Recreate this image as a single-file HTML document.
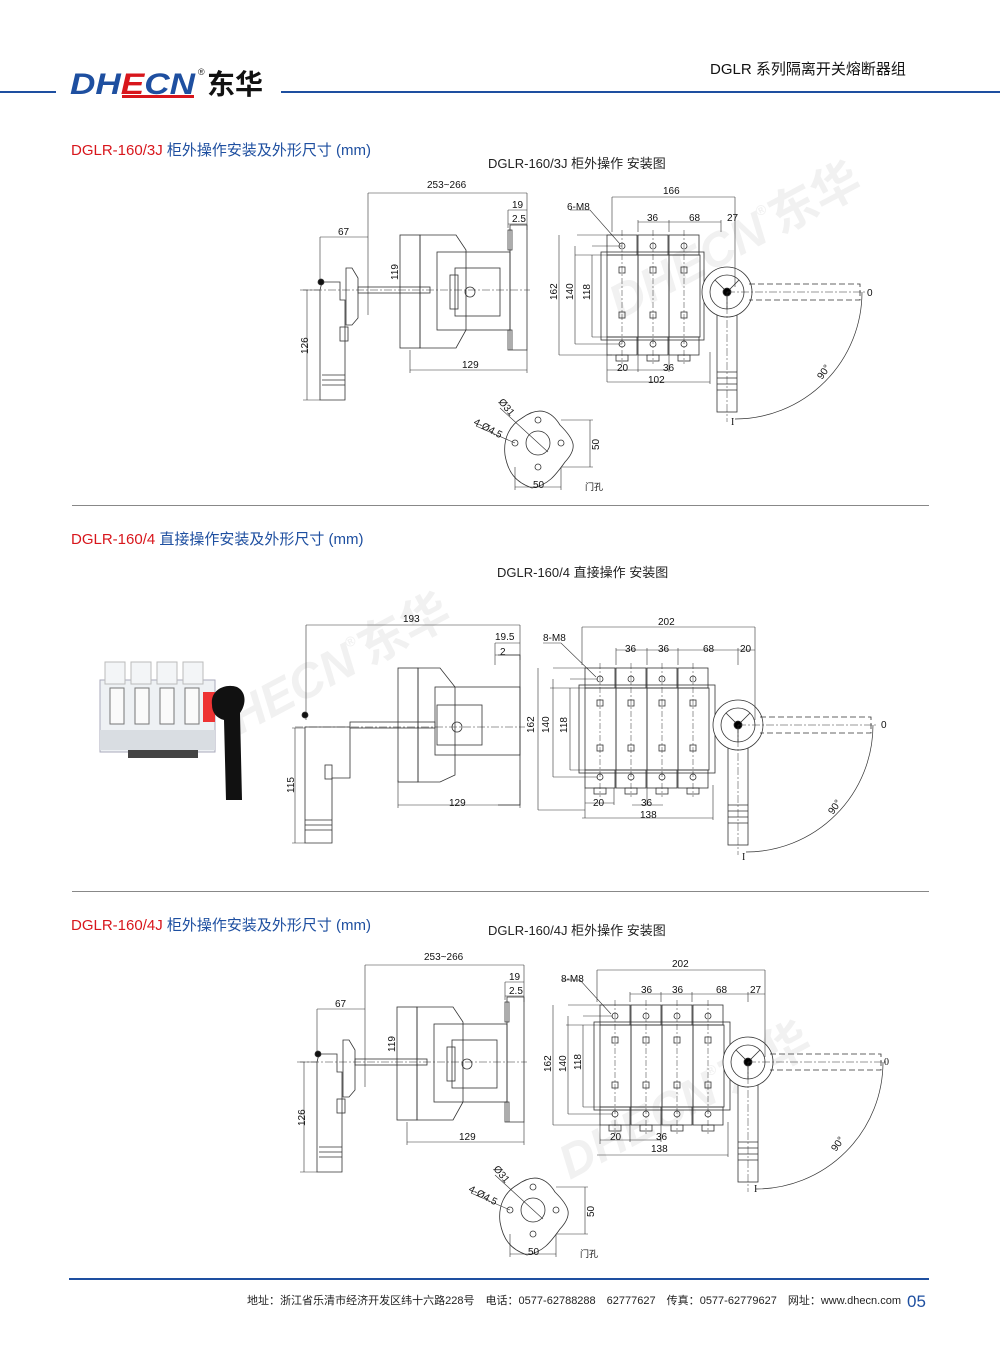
<!DOCTYPE html>
<html><head><meta charset="utf-8">
<style>
html,body{margin:0;padding:0;background:#fff;}
body{width:1000px;height:1357px;position:relative;overflow:hidden;font-family:"Liberation Sans","Noto Sans CJK SC",sans-serif;}
svg{position:absolute;left:0;top:0;}
</style></head><body>
<svg width="1000" height="1357" viewBox="0 0 1000 1357" font-family="Liberation Sans, Noto Sans CJK SC, sans-serif">
<defs>
<g id="side" fill="none" stroke="#333" stroke-width="0.8">
  <path d="M368 193H527M368 193V315M527 193V230M320 237H368M320 237V285M508 210H527M508 210V228M508 224H527M410 370H527M410 350V373M527 350V373M307 290V400M303 290H320M303 400H320" stroke-width="0.6"/>
  <path d="M320 290V400H345V300H340V282H322Z"/>
  <path d="M322 375H345M322 380H345M322 385H345"/>
  <rect x="340" y="327" width="8" height="14"/>
  <path d="M346 268H352L358 278V318L352 325H346Z"/>
  <circle cx="321" cy="282" r="3" fill="#111"/>
  <rect x="358" y="287" width="72" height="6"/>
  <rect x="400" y="235" width="20" height="113"/>
  <path d="M420 235H456L466 250V330L456 348H420Z"/>
  <rect x="437" y="252" width="73" height="78"/>
  <rect x="455" y="268" width="45" height="48"/>
  <rect x="450" y="275" width="8" height="34"/>
  <circle cx="470" cy="292" r="5"/>
  <path d="M510 225H527V350H510ZM508 230H512V250H508ZM508 330H512V350H508Z"/>
  <path d="M300 290H530" stroke-dasharray="8 2 2 2" stroke-width="0.5"/>
</g>
<g id="hole" fill="none" stroke="#333" stroke-width="0.8">
  <path d="M522 418C540 405 552 412 560 425C575 440 578 448 565 462C555 476 548 485 532 488C515 482 508 472 505 455C503 438 510 425 522 418Z"/>
  <circle cx="538" cy="443" r="12"/>
  <circle cx="538" cy="420" r="3"/><circle cx="538" cy="467" r="3"/>
  <circle cx="515" cy="443" r="3"/><circle cx="561" cy="443" r="3"/>
  <path d="M500 408L548 452M476 426L515 443M561 420H593M561 467H593M590 420V467M515 467V490M561 467V490M515 487H561" stroke-width="0.6"/>
</g>
<g id="handle" fill="none" stroke="#333" stroke-width="0.8">
  <rect x="-10" y="0" width="20" height="120" fill="#fff"/>
  <path d="M-10 80H10M-10 86H10M-10 92H10M-10 98H10"/>
  <circle cx="0" cy="0" r="25" fill="#fff"/>
  <circle cx="0" cy="0" r="17"/>
  <path d="M-12 -12L0 0L12 -12M0 0V17"/>
  <circle cx="0" cy="0" r="4" fill="#000"/>
  <path d="M22 -8H133V8H22" stroke-dasharray="6 3"/>
  <path d="M0 0H140M0 0V130" stroke-dasharray="8 2 2 2" stroke-width="0.5"/>
  <path d="M135 0A127 127 0 0 1 8 127" stroke-width="0.7"/>
</g>
<g id="pole" fill="none" stroke="#333" stroke-width="0.8">
  <rect x="0" y="-57" width="30" height="20"/>
  <circle cx="15" cy="-46" r="3"/>
  <rect x="0" y="-37" width="31" height="82"/>
  <rect x="12" y="-25" width="6" height="6"/>
  <rect x="12" y="20" width="6" height="6"/>
  <rect x="0" y="45" width="30" height="18"/>
  <circle cx="15" cy="52" r="3"/>
  <rect x="9" y="63" width="12" height="6"/>
  <path d="M15 -62V72" stroke-dasharray="6 2 2 2" stroke-width="0.5"/>
</g>
</defs>

<!-- header -->
<rect x="0" y="91" width="56" height="2" fill="#1e4fa0"/>
<rect x="281" y="91" width="719" height="2" fill="#1e4fa0"/>
<text x="70" y="94" font-size="30" font-weight="bold" font-style="italic" fill="#1e4fa0" textLength="125" lengthAdjust="spacingAndGlyphs">DH<tspan fill="#d8161c">E</tspan>CN</text>
<rect x="122" y="95" width="72" height="3" fill="#d8161c"/>
<text x="198" y="75" font-size="9" fill="#222">®</text>
<text x="207" y="94" font-size="28" font-weight="bold" fill="#111" font-family="Noto Sans CJK SC, sans-serif">东华</text>
<text x="710" y="74" font-size="15" fill="#111">DGLR 系列隔离开关熔断器组</text>

<!-- watermarks -->
<g fill="#f1f1f1" font-weight="bold" font-style="italic">
<text x="0" y="0" font-size="48" transform="translate(620,320) rotate(-28)">DHECN<tspan font-size="14" dy="-26">®</tspan><tspan dy="26" font-style="normal">东华</tspan></text>
<text x="0" y="0" font-size="48" transform="translate(240,735) rotate(-28)">HECN<tspan font-size="14" dy="-26">®</tspan><tspan dy="26" font-style="normal">东华</tspan></text>
<text x="0" y="0" font-size="48" transform="translate(570,1180) rotate(-28)">DHECN<tspan font-size="14" dy="-26">®</tspan><tspan dy="26" font-style="normal">东华</tspan></text>
</g>

<text x="71" y="155" font-size="15"><tspan fill="#d8161c">DGLR-160/3J</tspan><tspan fill="#1e4fa0"> 柜外操作安装及外形尺寸 (mm)</tspan></text>
<text x="488" y="168" font-size="13" fill="#222">DGLR-160/3J 柜外操作 安装图</text>
<rect x="72" y="505" width="857" height="1" fill="#888"/>
<text x="71" y="544" font-size="15"><tspan fill="#d8161c">DGLR-160/4</tspan><tspan fill="#1e4fa0"> 直接操作安装及外形尺寸 (mm)</tspan></text>
<text x="497" y="577" font-size="13" fill="#222">DGLR-160/4 直接操作 安装图</text>
<rect x="72" y="891" width="857" height="1" fill="#888"/>
<text x="71" y="930" font-size="15"><tspan fill="#d8161c">DGLR-160/4J</tspan><tspan fill="#1e4fa0"> 柜外操作安装及外形尺寸 (mm)</tspan></text>
<text x="488" y="935" font-size="13" fill="#222">DGLR-160/4J 柜外操作 安装图</text>

<g font-size="10" fill="#111">
<use href="#side"/>
<text x="427" y="188">253~266</text><text x="338" y="235">67</text>
<text x="512" y="208">19</text><text x="512" y="222">2.5</text>
<text x="462" y="368">129</text>
<text transform="translate(398,280) rotate(-90)">119</text>
<text transform="translate(308,354) rotate(-90)">126</text>
<use href="#hole"/>
<text transform="translate(498,402) rotate(50)">Ø31</text>
<text transform="translate(473,424) rotate(28)">4-Ø4.5</text>
<text transform="translate(599,450) rotate(-90)">50</text>
<text x="533" y="488">50</text>
<text x="585" y="490" font-size="9">门孔</text>
<g transform="translate(727,292)">
  <rect x="-126" y="-40" width="103" height="88" fill="none" stroke="#333" stroke-width="0.8"/>
  <use href="#pole" x="-120"/><use href="#pole" x="-89"/><use href="#pole" x="-58"/>
  <use href="#handle"/>
  <g fill="none" stroke="#333" stroke-width="0.6">
    <path d="M-115 -95H8M-115 -95V-60M8 -95V-5M-89 -70H-6M-89 -72V-60M-58 -72V-60M-6 -72V-60M-150 -57H-115M-135 -46H-105M-152 -37H-120M-168 -57V63M-152 -46V52M-135 -37V45M-168 63H-115M-152 52H-105M-135 45H-120M-120 63V90M-89 63V80M-58 63V80M-120 78H-89M-89 78H-58M-120 90H-17M-17 60V92M-157 -82H-137L-107 -48"/>
  </g>
  <text x="-64" y="-98">166</text>
  <text x="-160" y="-82">6-M8</text>
  <text x="-80" y="-71">36</text><text x="-38" y="-71">68</text><text x="0" y="-71">27</text>
  <text transform="translate(-170,8) rotate(-90)">162</text>
  <text transform="translate(-154,8) rotate(-90)">140</text>
  <text transform="translate(-137,8) rotate(-90)">118</text>
  <text x="-110" y="79">20</text><text x="-64" y="79">36</text><text x="-79" y="91">102</text>
  <text x="140" y="4">0</text>
  <text transform="translate(95,88) rotate(-55)">90°</text>
  <text x="4" y="133" font-family="Liberation Serif">I</text>
</g>

<g>
  <rect x="100" y="680" width="115" height="72" fill="#eef1f4" stroke="#aab" stroke-width="1"/>
  <rect x="105" y="662" width="20" height="22" fill="#f3f5f7" stroke="#bbb"/>
  <rect x="131" y="662" width="20" height="22" fill="#f3f5f7" stroke="#bbb"/>
  <rect x="157" y="662" width="20" height="22" fill="#f3f5f7" stroke="#bbb"/>
  <rect x="183" y="662" width="20" height="22" fill="#f3f5f7" stroke="#bbb"/>
  <rect x="110" y="688" width="14" height="36" fill="#fafafa" stroke="#777"/>
  <rect x="135" y="688" width="14" height="36" fill="#fafafa" stroke="#777"/>
  <rect x="160" y="688" width="14" height="36" fill="#fafafa" stroke="#777"/>
  <rect x="185" y="688" width="14" height="36" fill="#fafafa" stroke="#777"/>
  <rect x="100" y="730" width="115" height="20" fill="#d9dde2"/>
  <rect x="128" y="750" width="70" height="8" fill="#444"/>
  <rect x="203" y="692" width="12" height="30" fill="#e33"/>
  <path d="M212 705C210 690 225 683 237 687C247 692 246 705 240 713L242 800H226L224 720C216 718 212 712 212 705Z" fill="#111"/>
</g>
<g fill="none" stroke="#333" stroke-width="0.8">
  <path d="M306 625H520M306 625V720M520 625V660M495 643H520M495 643V665M495 655H520M398 805H520M398 780V808M520 780V808M295 728V843M292 728H305M292 843H305" stroke-width="0.6"/>
  <path d="M305 727H350V778H332V843H305Z"/>
  <path d="M305 820H332M305 825H332M305 830H332"/>
  <rect x="325" y="765" width="7" height="14"/>
  <circle cx="305" cy="715" r="3" fill="#111"/>
  <rect x="350" y="722" width="85" height="6"/>
  <rect x="398" y="668" width="20" height="114"/>
  <path d="M418 668H440L455 687V775L440 782H418Z"/>
  <rect x="435" y="687" width="85" height="68"/>
  <rect x="437" y="705" width="45" height="40"/>
  <circle cx="457" cy="727" r="5"/>
  <path d="M498 655H520V805H498"/>
  <path d="M295 727H525" stroke-dasharray="8 2 2 2" stroke-width="0.5"/>
</g>
<text x="403" y="622">193</text><text x="495" y="640">19.5</text><text x="500" y="655">2</text>
<text x="449" y="806">129</text>
<text transform="translate(294,793) rotate(-90)">115</text>
<g transform="translate(738,725)">
  <rect x="-159" y="-40" width="136" height="88" fill="none" stroke="#333" stroke-width="0.8"/>
  <use href="#pole" x="-153"/><use href="#pole" x="-122"/><use href="#pole" x="-91"/><use href="#pole" x="-60"/>
  <use href="#handle"/>
  <g fill="none" stroke="#333" stroke-width="0.6">
    <path d="M-156 -98H17M-156 -98V-60M17 -98V-5M-122 -75H17M-122 -77V-60M-91 -77V-60M-60 -77V-60M0 -77V-60M-185 -57H-150M-168 -46H-140M-188 -37H-153M-200 -57V85M-185 -46V52M-168 -37V45M-200 85H-153M-185 52H-140M-168 45H-153M-153 63V93M-124 63V80M-91 63V80M-153 78H-124M-106 80H-75M-156 93H-25M-25 60V95M-195 -82H-177L-142 -48"/>
  </g>
  <text x="-80" y="-100">202</text>
  <text x="-195" y="-84">8-M8</text>
  <text x="-113" y="-73">36</text><text x="-80" y="-73">36</text><text x="-35" y="-73">68</text><text x="2" y="-73">20</text>
  <text transform="translate(-204,8) rotate(-90)">162</text>
  <text transform="translate(-189,8) rotate(-90)">140</text>
  <text transform="translate(-171,8) rotate(-90)">118</text>
  <text x="-145" y="81">20</text><text x="-97" y="81">36</text><text x="-98" y="93">138</text>
  <text x="143" y="3">0</text>
  <text transform="translate(95,90) rotate(-55)">90°</text>
  <text x="4" y="135" font-family="Liberation Serif">I</text>
</g>

<g transform="translate(-3,772)">
<use href="#side"/>
<text x="427" y="188">253~266</text><text x="338" y="235">67</text>
<text x="512" y="208">19</text><text x="512" y="222">2.5</text>
<text x="462" y="368">129</text>
<text transform="translate(398,280) rotate(-90)">119</text>
<text transform="translate(308,354) rotate(-90)">126</text>
</g>
<g transform="translate(-5,767)">
<use href="#hole"/>
<text transform="translate(498,402) rotate(50)">Ø31</text>
<text transform="translate(473,424) rotate(28)">4-Ø4.5</text>
<text transform="translate(599,450) rotate(-90)">50</text>
<text x="533" y="488">50</text>
<text x="585" y="490" font-size="9">门孔</text>
</g>
<g transform="translate(748,1062)">
  <rect x="-154" y="-40" width="136" height="88" fill="none" stroke="#333" stroke-width="0.8"/>
  <use href="#pole" x="-148"/><use href="#pole" x="-117"/><use href="#pole" x="-86"/><use href="#pole" x="-55"/>
  <use href="#handle"/>
  <g fill="none" stroke="#333" stroke-width="0.6">
    <path d="M-151 -92H17M-151 -92V-60M17 -92V-5M-118 -68H17M-118 -70V-60M-87 -70V-60M-56 -70V-60M0 -70V-60M-180 -57H-145M-165 -46H-135M-182 -37H-148M-195 -57V63M-180 -46V52M-165 -37V45M-195 63H-148M-180 52H-135M-165 45H-148M-148 63V82M-118 63V80M-87 63V80M-148 78H-118M-118 78H-87M-151 93H-20M-20 60V95M-186 -82H-168L-137 -48"/>
  </g>
  <text x="-76" y="-95">202</text>
  <text x="-187" y="-80">8-M8</text>
  <text x="-107" y="-69">36</text><text x="-76" y="-69">36</text><text x="-32" y="-69">68</text><text x="2" y="-69">27</text>
  <text transform="translate(-197,10) rotate(-90)">162</text>
  <text transform="translate(-182,10) rotate(-90)">140</text>
  <text transform="translate(-167,8) rotate(-90)">118</text>
  <text x="-138" y="78">20</text><text x="-92" y="78">36</text><text x="-97" y="90">138</text>
  <text x="136" y="3" font-family="Liberation Serif">0</text>
  <text transform="translate(88,90) rotate(-55)">90°</text>
  <text x="6" y="130" font-family="Liberation Serif">I</text>
</g>
</g>

<rect x="69" y="1278" width="860" height="2" fill="#1e4fa0"/>
<text x="247" y="1304" font-size="11" fill="#222" textLength="654" lengthAdjust="spacingAndGlyphs">地址：浙江省乐清市经济开发区纬十六路228号　电话：0577-62788288　62777627　传真：0577-62779627　网址：www.dhecn.com</text>
<text x="907" y="1307" font-size="17" fill="#1e4fa0">05</text>
</svg>
</body></html>
